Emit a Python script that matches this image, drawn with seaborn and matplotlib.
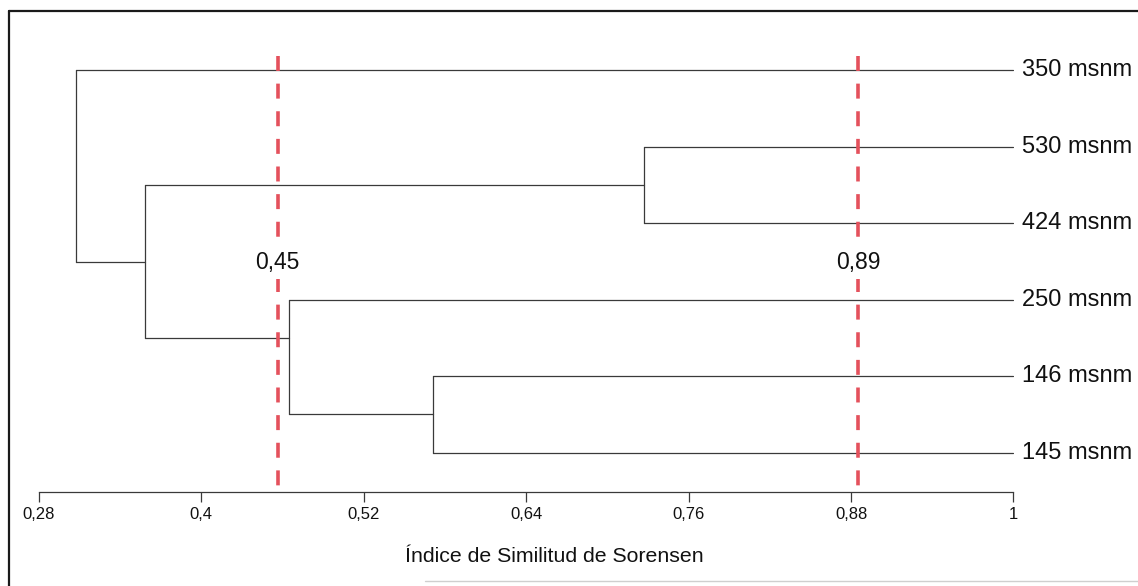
import matplotlib
matplotlib.use("Agg")
import matplotlib.pyplot as plt
import matplotlib.lines as mlines
import seaborn as sns
import pandas as pd

# ---- data ----
leaf_labels = ["350 msnm", "530 msnm", "424 msnm", "250 msnm", "146 msnm", "145 msnm"]
# merges: child a, child b (leaves 0-5, merged nodes 6+), similarity, attach position of the new node
merge_a = [1, 4, 3, 6, 0]
merge_b = [2, 5, 7, 8, 9]
merge_sim = [0.727, 0.5715, 0.4648, 0.3584, 0.3072]
merge_pos = [1.5, 4.5, 3.5, 2.5, 1.25]

cut_values = [0.4566, 0.8854]
cut_labels = ["0,45", "0,89"]

tick_values = [0.28, 0.40, 0.52, 0.64, 0.76, 0.88, 1.0]
tick_labels = ["0,28", "0,4", "0,52", "0,64", "0,76", "0,88", "1"]
x_label = "Índice de Similitud de Sorensen"

# ---- build segments ----
n_leaf = len(leaf_labels)
node_x = {i: 1.0 for i in range(n_leaf)}
node_y = {i: float(i) for i in range(n_leaf)}
rows = []
seg = 0
for k, (a, b, s, p) in enumerate(zip(merge_a, merge_b, merge_sim, merge_pos)):
    nid = n_leaf + k
    for c in (a, b):
        rows.append((seg, node_x[c], node_y[c])); rows.append((seg, s, node_y[c])); seg += 1
    rows.append((seg, s, node_y[a])); rows.append((seg, s, node_y[b])); seg += 1
    node_x[nid] = s
    node_y[nid] = p
segs = pd.DataFrame(rows, columns=["seg", "x", "y"])

# ---- figure ----
sns.set_theme(style="white")
plt.rcParams["font.family"] = ["Liberation Sans", "DejaVu Sans"]

W, H = 1138, 586
fig = plt.figure(figsize=(W / 100, H / 100), dpi=100)
ax_left, ax_right = 38.7 / W, 1013.5 / W
y_top_px, y_bot_px = 32.0, 491.7
ax = fig.add_axes([ax_left, 1 - y_bot_px / H, ax_right - ax_left, (y_bot_px - y_top_px) / H])

leaf0_px, step_px = 70.3, 76.48
ylim_bottom = (y_bot_px - leaf0_px) / step_px
ylim_top = (y_top_px - leaf0_px) / step_px

sns.lineplot(data=segs, x="x", y="y", units="seg", estimator=None, sort=False,
             color="#3a3a3a", linewidth=0.9, ax=ax, legend=False)

# cut lines
dash_top = (56 - leaf0_px) / step_px
for v, lab in zip(cut_values, cut_labels):
    ax.plot([v, v], [dash_top, ylim_bottom], color="#e4515c", linewidth=2.6,
            linestyle=(0, (4.15, 3.5)), zorder=4, dash_capstyle="butt")
    ax.text(v, 2.51, lab, ha="center", va="center", fontsize=16.5, color="#111111",
            zorder=5, bbox=dict(facecolor="white", edgecolor="none", pad=4))

for i, lab in enumerate(leaf_labels):
    ax.text(1.0 + 9 / 1354.2, i, lab, ha="left", va="center", fontsize=17,
            color="#111111", clip_on=False)

ax.set_xlim(0.28, 1.0)
ax.set_ylim(ylim_bottom, ylim_top)
ax.set_xticks(tick_values)
ax.set_xticklabels(tick_labels)
ax.set_yticks([])
ax.tick_params(axis="x", direction="out", length=7, width=0.9, color="#3a3a3a",
               labelsize=12, pad=4, labelcolor="#111111", bottom=True)
for s in ("left", "top", "right"):
    ax.spines[s].set_visible(False)
ax.spines["bottom"].set_color("#3a3a3a")
ax.spines["bottom"].set_linewidth(0.9)
ax.set_xlabel("")
ax.set_ylabel("")
ax.patch.set_alpha(0)

fig.text(554 / W, 1 - 556.7 / H, x_label, ha="center", va="center",
         fontsize=15.3, color="#111111")

# frame of the original scan
fig.add_artist(mlines.Line2D([9 / W, 9 / W], [0, 1 - 11 / H], transform=fig.transFigure,
                             color="#1a1a1a", linewidth=1.6))
fig.add_artist(mlines.Line2D([9 / W, 1], [1 - 11 / H, 1 - 11 / H], transform=fig.transFigure,
                             color="#1a1a1a", linewidth=1.6))
fig.add_artist(mlines.Line2D([425 / W, 1], [1 - 580.5 / H, 1 - 580.5 / H], transform=fig.transFigure,
                             color="#cfcfcf", linewidth=1.0))

fig.savefig("out.png", dpi=100)
